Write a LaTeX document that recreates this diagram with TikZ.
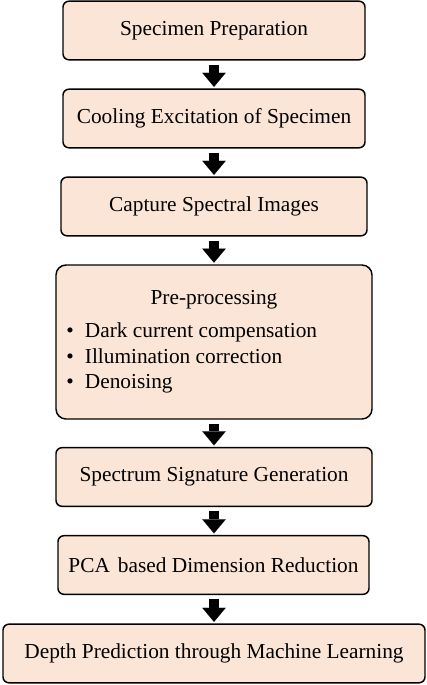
\documentclass[tikz,border=0pt]{standalone}
\usepackage{fontspec}
\setmainfont{Liberation Serif}
\usepackage{tikz}
\usetikzlibrary{arrows.meta}

\definecolor{peach}{RGB}{251,229,214}

\begin{document}
\begin{tikzpicture}[x=0.75pt,y=0.75pt,yscale=-1,xscale=1,
  stepbox/.style={draw=black,line width=1.1pt,fill=peach,rounded corners=4.5pt,minimum height=44pt,inner sep=0pt},
  steptext/.style={inner sep=0pt,font=\fontsize{16}{19}\selectfont},
  blockarrow/.style={line width=7.5pt,shorten <=3pt,shorten >=1.2pt,-{Triangle[width=17.5pt,length=10.5pt,line width=0.01pt]}}]
\useasboundingbox (0,0) rectangle (427,685);

% Boxes
\node [stepbox,steptext,minimum width=226.5pt] (prep) at (214,30.5) {Specimen Preparation};
\node [stepbox,steptext,minimum width=226.5pt] (cool) at (214,118.5) {Cooling Excitation of Specimen};
\node [stepbox,steptext,minimum width=229.5pt] (capt) at (214,206.5) {Capture Spectral Images};
\node [stepbox,minimum width=237pt,minimum height=115.5pt,rounded corners=7.5pt] (pre) at (214,342) {};
\node [stepbox,steptext,minimum width=237pt] (sign) at (214,477) {Spectrum Signature Generation};
\node [stepbox,steptext,minimum width=233.25pt] (pca) at (213.5,565) {PCA\hspace{2pt} based Dimension Reduction};
\node [stepbox,steptext,minimum width=316.5pt] (depth) at (214,653.5) {Depth Prediction through Machine Learning};

% Text Node
\node [steptext] (pretitle) at (214,300) {Pre-processing};
% Text Node
\node [steptext,anchor=west,align=left] (prelist) at (66,358) {\makebox[14pt][l]{\textbullet}Dark current compensation\\ \makebox[14pt][l]{\textbullet}Illumination correction\\ \makebox[14pt][l]{\textbullet}Denoising};

% Arrows
\draw [blockarrow] (prep.south) -- (cool.north);
\draw [blockarrow] (cool.south) -- (capt.north);
\draw [blockarrow] (capt.south) -- (pre.north);
\draw [blockarrow] (pre.south) -- (sign.north);
\draw [blockarrow] (sign.south) -- (sign.south |- pca.north);
\draw [blockarrow] (pca.south -| depth.north) -- (depth.north);

\end{tikzpicture}
\end{document}
